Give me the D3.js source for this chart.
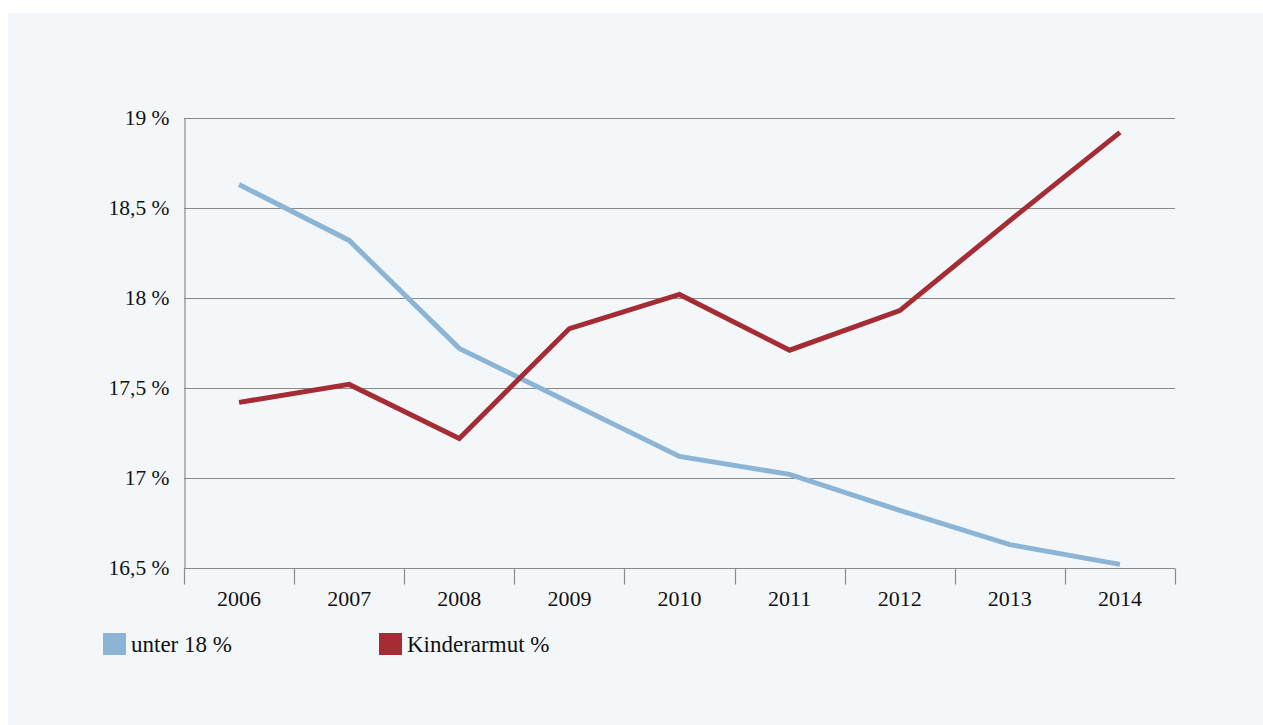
<!DOCTYPE html>
<html>
<head>
<meta charset="utf-8">
<script src="https://cdn.jsdelivr.net/npm/d3@7"></script>
<style>
  html, body { margin: 0; padding: 0; background: #fff; }
  svg { display: block; }
</style>
</head>
<body>
<div id="chart"></div>
<script>
const years = [`2006`, `2007`, `2008`, `2009`, `2010`, `2011`, `2012`, `2013`, `2014`];
const unter18 = [18.63, 18.32, 17.72, 17.42, 17.12, 17.02, 16.82, 16.63, 16.52];
const kinderarmut = [17.42, 17.52, 17.22, 17.83, 18.02, 17.71, 17.93, 18.43, 18.92];
const yTicks = [16.5, 17, 17.5, 18, 18.5, 19];
const seriesNames = [`unter 18 %`, `Kinderarmut %`];
const seriesColors = [`#8cb5d5`, `#a52b34`];

const width = 1263;
const height = 725;
const margin = { top: 118, right: 88, bottom: 157, left: 184 };
const fontFamily = `'Liberation Serif', 'Times New Roman', 'DejaVu Serif', serif`;

const svg = d3.select(`#chart`).append(`svg`)
    .attr(`width`, width)
    .attr(`height`, height)
    .style(`font-family`, fontFamily)
    .style(`font-size`, `22px`);

// panel background
svg.append(`rect`)
    .attr(`x`, 8).attr(`y`, 13)
    .attr(`width`, width - 8).attr(`height`, height - 13)
    .attr(`fill`, `#f4f7fa`);

const x = d3.scaleBand()
    .domain(years)
    .range([margin.left, width - margin.right]);

const y = d3.scaleLinear()
    .domain([16.5, 19])
    .range([height - margin.bottom, margin.top]);

const fmt = (d) => `${String(d).replace(`.`, `,`)} %`;

// gridlines
svg.append(`g`)
    .selectAll(`line`)
    .data(yTicks.slice(1))
  .enter().append(`line`)
    .attr(`x1`, margin.left).attr(`x2`, width - margin.right)
    .attr(`y1`, (d) => Math.round(y(d)) + 0.5)
    .attr(`y2`, (d) => Math.round(y(d)) + 0.5)
    .attr(`stroke`, `#8a8a8a`)
    .attr(`stroke-width`, 1.2);

// y axis
const yAxis = svg.append(`g`)
    .attr(`transform`, `translate(${margin.left + 0.5},0)`)
    .call(d3.axisLeft(y).tickValues(yTicks).tickFormat(fmt).tickSize(0).tickPadding(15));
yAxis.select(`.domain`).attr(`stroke`, `#8a8a8a`).attr(`stroke-width`, 1.2);
yAxis.selectAll(`text`)
    .attr(`dy`, `0.32em`)
    .attr(`fill`, `#111`)
    .style(`font-family`, fontFamily)
    .style(`font-size`, `21.5px`);

// x axis with ticks between categories
const xAxisG = svg.append(`g`)
    .attr(`transform`, `translate(0,${Math.round(y(16.5)) + 0.5})`);
xAxisG.append(`line`)
    .attr(`x1`, margin.left).attr(`x2`, width - margin.right)
    .attr(`stroke`, `#8a8a8a`).attr(`stroke-width`, 1.2);
xAxisG.selectAll(`.tick`)
    .data(years.concat([null]))
  .enter().append(`line`)
    .attr(`x1`, (d, i) => Math.round(margin.left + i * x.step()) + 0.5)
    .attr(`x2`, (d, i) => Math.round(margin.left + i * x.step()) + 0.5)
    .attr(`y1`, 0).attr(`y2`, 16)
    .attr(`stroke`, `#8a8a8a`).attr(`stroke-width`, 1.2);
xAxisG.selectAll(`text`)
    .data(years)
  .enter().append(`text`)
    .attr(`x`, (d) => x(d) + x.bandwidth() / 2)
    .attr(`y`, 37)
    .attr(`text-anchor`, `middle`)
    .attr(`fill`, `#111`)
    .text((d) => d);

// lines
const line = d3.line()
    .x((d, i) => x(years[i]) + x.bandwidth() / 2)
    .y((d) => y(d));

[unter18, kinderarmut].forEach((values, i) => {
  svg.append(`path`)
      .datum(values)
      .attr(`d`, line)
      .attr(`fill`, `none`)
      .attr(`stroke`, seriesColors[i])
      .attr(`stroke-width`, 5);
});

// legend
const legendX = [103, 379];
const legend = svg.append(`g`)
    .selectAll(`g`)
    .data(seriesNames)
  .enter().append(`g`)
    .attr(`transform`, (d, i) => `translate(${legendX[i]},633)`);
legend.append(`rect`)
    .attr(`width`, 23).attr(`height`, 22)
    .attr(`fill`, (d, i) => seriesColors[i]);
legend.append(`text`)
    .attr(`x`, 28).attr(`y`, 19)
    .attr(`fill`, `#111`)
    .style(`font-size`, `23px`)
    .text((d) => d);
</script>
</body>
</html>
